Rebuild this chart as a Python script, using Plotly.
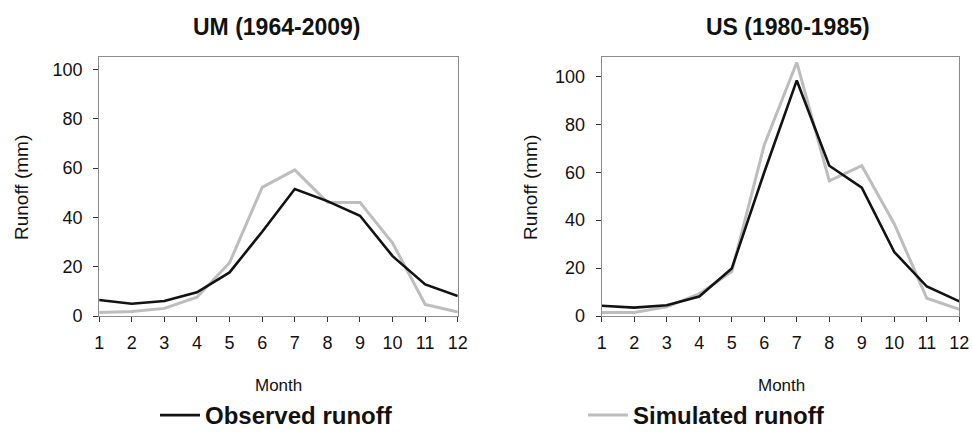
import plotly.graph_objects as go

months = list(range(1, 13))
month_ticks = [str(m) for m in months]

um_observed = [6.5, 5.0, 6.1, 9.6, 17.7, 34.2, 51.5, 46.6, 40.7, 24.3, 12.8, 8.1]
um_simulated = [1.4, 1.8, 3.1, 7.6, 21.6, 52.2, 59.3, 46.2, 46.1, 29.6, 4.7, 1.6]
us_observed = [4.3, 3.5, 4.5, 8.1, 19.8, 60.0, 98.3, 62.7, 53.6, 26.7, 12.3, 6.1]
us_simulated = [1.5, 1.5, 3.8, 9.2, 18.5, 71.4, 105.8, 56.4, 62.7, 38.4, 7.4, 2.8]

titles = ["UM (1964-2009)", "US (1980-1985)"]
y_ticks = [0, 20, 40, 60, 80, 100]

OBS_COLOR = "#121212"
SIM_COLOR = "#bdbdbd"
FONT = "Liberation Sans, Arial, sans-serif"

fig = go.Figure()

fig.add_trace(go.Scatter(x=months, y=um_simulated, mode="lines", name="Simulated runoff",
                         line=dict(color=SIM_COLOR, width=3), xaxis="x", yaxis="y",
                         legend="legend2"))
fig.add_trace(go.Scatter(x=months, y=um_observed, mode="lines", name="Observed runoff",
                         line=dict(color=OBS_COLOR, width=2.6), xaxis="x", yaxis="y",
                         legend="legend"))
fig.add_trace(go.Scatter(x=months, y=us_simulated, mode="lines", name="Simulated runoff",
                         line=dict(color=SIM_COLOR, width=3), xaxis="x2", yaxis="y2",
                         showlegend=False))
fig.add_trace(go.Scatter(x=months, y=us_observed, mode="lines", name="Observed runoff",
                         line=dict(color=OBS_COLOR, width=2.6), xaxis="x2", yaxis="y2",
                         showlegend=False))

common_x = dict(range=[1, 12], tickvals=months, ticktext=month_ticks, showline=True,
                mirror=True, linecolor="#8c8c8c", linewidth=1, ticks="outside",
                ticklen=5, tickcolor="#333", showgrid=False, zeroline=False,
                ticklabelstandoff=5, automargin=False,
                tickfont=dict(family=FONT, size=18, color="#111"), fixedrange=True)
common_y = dict(tickvals=y_ticks, showline=True, mirror=True, linecolor="#8c8c8c",
                linewidth=1, ticks="outside", ticklen=5, tickcolor="#333",
                showgrid=False, zeroline=False, ticklabelstandoff=7, automargin=False,
                tickfont=dict(family=FONT, size=18, color="#111"), fixedrange=True)

legend_font = dict(family=FONT, size=24, color="#111", weight="bold")

fig.update_layout(
    width=972, height=438,
    margin=dict(l=0, r=0, t=0, b=0),
    paper_bgcolor="white", plot_bgcolor="white",
    xaxis=dict(domain=[0.102, 0.471], anchor="y", **common_x),
    yaxis=dict(domain=[0.2785, 0.870], anchor="x", range=[0, 105.1], **common_y),
    xaxis2=dict(domain=[0.619, 0.987], anchor="y2", **common_x),
    yaxis2=dict(domain=[0.2785, 0.870], anchor="x2", range=[0, 108.1], **common_y),
    legend=dict(x=155/972, y=0, xanchor="left", yanchor="bottom",
                orientation="h", bgcolor="rgba(0,0,0,0)", font=legend_font,
                itemwidth=40),
    legend2=dict(x=583/972, y=0, xanchor="left", yanchor="bottom",
                 orientation="h", bgcolor="rgba(0,0,0,0)", font=legend_font,
                 itemwidth=40),
    showlegend=True,
)

def ann(text, x, y, size, angle=0):
    return dict(text=text, x=x / 972, y=1 - y / 438, xref="paper", yref="paper",
                xanchor="center", yanchor="middle", showarrow=False, textangle=angle,
                font=dict(family=FONT, size=size, color="#111"))

annotations = [
    ann("<b>" + titles[0] + "</b>", 276, 27, 23),
    ann("<b>" + titles[1] + "</b>", 788, 27, 23),
    ann("Runoff (mm)", 21, 188, 19, -90),
    ann("Runoff (mm)", 530, 188, 19, -90),
    ann("Month", 278, 385, 17),
    ann("Month", 781, 385, 17),
]
fig.update_layout(annotations=annotations)

fig.write_html("out.html")
